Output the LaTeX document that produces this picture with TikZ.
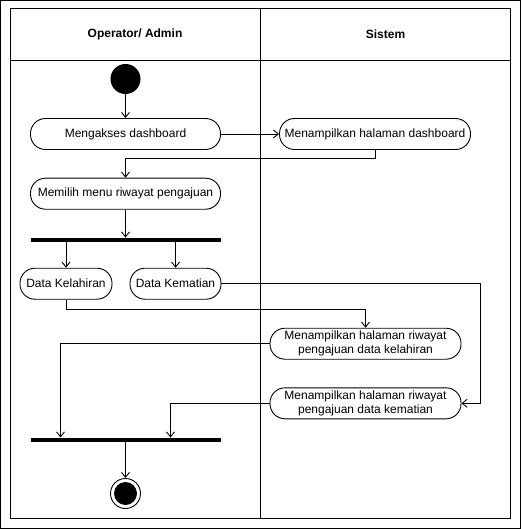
\documentclass[tikz,border=0pt]{standalone}
\usepackage{fontspec}
\setmainfont{Liberation Sans}
\usetikzlibrary{arrows.meta}
\tikzset{
  act/.style={draw, rounded corners=15pt, minimum height=31pt, inner sep=1pt,
    align=center, font=\fontsize{12}{14}\selectfont},
  flow/.style={-{Straight Barb[length=5pt,width=8pt]}},
  bar/.style={fill=black, minimum width=190pt, minimum height=4pt, inner sep=0pt},
  lane/.style={font=\bfseries\fontsize{12}{14}\selectfont}
}

\begin{document}
\begin{tikzpicture}[x=1pt,y=-1pt,line width=0.9pt]
\useasboundingbox (0,0) rectangle (521,529);
\draw (0.5,0.5) rectangle (520.5,528.5);
% swimlanes
\draw (10.5,8.5) rectangle (510.5,518);
\draw (10.5,60) -- (510.5,60);
\draw (260.5,8.5) -- (260.5,518);
\node[lane] (operator) at (135,34) {Operator/ Admin};
\node[lane] (sistem) at (385.5,34) {Sistem};

\node[circle, fill, minimum size=30pt, inner sep=0pt] (start) at (125.5,79) {};
\node[act, minimum width=190pt] (akses) at (125.5,134) {Mengakses dashboard};
\node[act, minimum width=191pt] (dash) at (375,134) {Menampilkan halaman dashboard};
\node[act, minimum width=190pt] (pilih) at (125.5,193.7) {Memilih menu riwayat pengajuan};
\node[bar] (fork) at (125.5,240) {};
\node[act, minimum width=92pt] (lahir) at (66,283.7) {Data Kelahiran};
\node[act, minimum width=91pt] (mati) at (175.5,283.7) {Data Kematian};
\node[act, minimum width=191pt] (tlahir) at (365.5,343.7) {Menampilkan halaman riwayat\\pengajuan data kelahiran};
\node[act, minimum width=191pt] (tmati) at (365.5,403.3) {Menampilkan halaman riwayat\\pengajuan data kematian};
\node[bar] (join) at (125.5,440) {};
\node[circle, draw, minimum size=30pt, inner sep=0pt] (stop) at (125.5,493.5) {};
\fill (stop) circle (11.5pt);
\coordinate (kanan) at (480.5,0);

\draw[flow] (start) -- (akses);
\draw[flow] (akses) -- (dash);
\draw[flow] (dash.south) -- ++(0,9) -| (pilih.north);
\draw[flow] (pilih) -- (fork);
\draw[flow] (lahir.north |- fork.south) -- (lahir.north);
\draw[flow] (mati.north |- fork.south) -- (mati.north);
\draw[flow] (lahir.south) -- ++(0,10) -| (tlahir.north);
\draw[flow] (mati.east) -- (mati.east -| kanan) |- (tmati.east);
\draw[flow] (tlahir.west) -| ([xshift=-65pt]join.north);
\draw[flow] (tmati.west) -| ([xshift=45pt]join.north);
\draw[flow] (join) -- (stop);
\end{tikzpicture}
\end{document}
